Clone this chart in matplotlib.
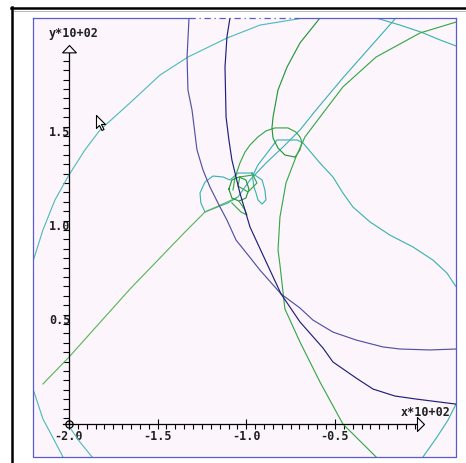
import numpy as np
import matplotlib
matplotlib.use("Agg")
import matplotlib.pyplot as plt
from matplotlib.lines import Line2D

# ---------------- data (units: x*10+02, y*10+02) ----------------
cyan_arc_x = [-2.215, -2.197, -2.147, -2.079, -2.000, -1.910, -1.825, -1.656, -1.487, -1.329, -1.109, -0.923, -0.714, -0.600]
cyan_arc_y = [0.820, 0.851, 1.000, 1.160, 1.293, 1.426, 1.532, 1.676, 1.824, 1.920, 2.021, 2.090, 2.122, 2.145]
cyan_arc2_x = [-0.330, -0.268, -0.133, -0.015, 0.093, 0.183, 0.210]
cyan_arc2_y = [2.150, 2.128, 2.090, 2.053, 2.011, 1.979, 1.968]
cyan_low1_x = [-2.210, -2.197, -2.147, -2.090, -2.034, -2.020]
cyan_low1_y = [0.165, 0.138, -0.005, -0.106, -0.207, -0.230]
cyan_low2_x = [-1.994, -1.938, -1.870, -1.850]
cyan_low2_y = [-0.053, -0.128, -0.207, -0.230]
cyan_low3_x = [0.200, 0.183, 0.138, 0.076, -0.003, -0.020]
cyan_low3_y = [0.085, 0.074, -0.011, -0.101, -0.207, -0.230]
cyan_line_x = [-0.140, -0.156, -0.455, -0.607, -0.697, -0.793, -0.889, -0.979, -1.047, -1.103, -1.233]
cyan_line_y = [2.150, 2.128, 1.809, 1.638, 1.532, 1.441, 1.356, 1.266, 1.176, 1.144, 1.096]
cyan_bean_x = [0.200, 0.177, 0.132, 0.053, -0.060, -0.190, -0.302, -0.398, -0.455, -0.511, -0.584, -0.680, -0.714, -0.827, -0.878, -0.934, -0.962]
cyan_bean_y = [0.680, 0.707, 0.771, 0.840, 0.910, 0.973, 1.043, 1.122, 1.197, 1.282, 1.356, 1.463, 1.479, 1.479, 1.415, 1.346, 1.293]
cyan_drop_x = [-0.968, -0.911, -0.895, -0.889, -0.911, -0.934, -0.945, -0.957, -0.962, -0.968]
cyan_drop_y = [1.303, 1.266, 1.213, 1.160, 1.138, 1.160, 1.197, 1.229, 1.266, 1.303]
cyan_loop_x = [-0.968, -1.047, -1.092, -1.131, -1.188, -1.233, -1.261, -1.256, -1.233]
cyan_loop_y = [1.303, 1.303, 1.266, 1.282, 1.287, 1.255, 1.197, 1.144, 1.096]

green_line_x = [-2.147, -2.000, -1.656, -1.346, -1.233, -1.058]
green_line_y = [0.181, 0.324, 0.686, 0.989, 1.096, 1.170]
green_circ_x = [-1.075, -1.064, -1.036, -1.007, -0.979, -0.934, -0.889, -0.838, -0.765, -0.720, -0.697, -0.686, -0.697, -0.725]
green_circ_y = [1.213, 1.277, 1.356, 1.415, 1.452, 1.495, 1.527, 1.543, 1.543, 1.521, 1.495, 1.468, 1.426, 1.388]
green_arc1_x = [-0.565, -0.584, -0.697, -0.770, -0.821, -0.849, -0.855, -0.849, -0.821, -0.782, -0.725]
green_arc1_y = [2.150, 2.128, 1.995, 1.867, 1.745, 1.601, 1.543, 1.489, 1.436, 1.399, 1.388]
green_arc2_x = [0.220, 0.183, -0.020, -0.268, -0.455, -0.584, -0.669, -0.720, -0.776, -0.810, -0.821, -0.810, -0.782, -0.697, -0.584, -0.455, -0.268, -0.240]
green_arc2_y = [2.115, 2.106, 2.048, 1.920, 1.761, 1.601, 1.495, 1.388, 1.250, 1.069, 0.894, 0.814, 0.580, 0.404, 0.191, -0.032, -0.207, -0.230]
green_small_x = [-1.098, -1.081, -1.041, -1.002, -0.985, -1.002, -1.041, -1.081, -1.098]
green_small_y = [1.218, 1.266, 1.282, 1.266, 1.218, 1.170, 1.154, 1.170, 1.218]
green_tail_x = [-1.041, -1.007, -0.996, -1.030, -1.081]
green_tail_y = [1.154, 1.106, 1.080, 1.096, 1.144]
green_sq_x = [-1.036, -0.962, -0.940, -0.990, -1.047, -1.036]
green_sq_y = [1.282, 1.293, 1.250, 1.202, 1.234, 1.282]

navy1_x = [-1.322, -1.323, -1.334, -1.329, -1.306, -1.278, -1.244, -1.205, -1.148, -1.109, -1.058, -0.990, -0.923, -0.804, -0.697, -0.624, -0.511, -0.381, -0.229, -0.133, 0.036, 0.183, 0.210]
navy1_y = [2.150, 2.128, 1.920, 1.745, 1.638, 1.426, 1.319, 1.229, 1.122, 1.053, 0.947, 0.867, 0.787, 0.660, 0.585, 0.521, 0.457, 0.415, 0.378, 0.367, 0.362, 0.367, 0.368]
navy2_x = [-1.090, -1.092, -1.109, -1.120, -1.114, -1.098, -1.081, -1.036, -0.979, -0.906, -0.804, -0.697, -0.567, -0.511, -0.381, -0.285, -0.162, -0.043, 0.183, 0.210]
navy2_y = [2.150, 2.128, 2.027, 1.867, 1.601, 1.479, 1.372, 1.197, 1.016, 0.867, 0.660, 0.511, 0.372, 0.298, 0.213, 0.154, 0.117, 0.101, 0.074, 0.072]

x_major = [-2.0, -1.5, -1.0, -0.5]
x_major_labels = ["-2.0", "-1.5", "-1.0", "-0.5"]
y_major = [0.5, 1.0, 1.5]
y_major_labels = ["0.5", "1.0", "1.5"]
x_axis_label = "x*10+02"
y_axis_label = "y*10+02"
origin_x = -2.0
axis_cross_y = -0.032
x_axis_tip = 0.0
y_axis_tip = 1.984
cursor_x = [-1.848]
cursor_y = [1.612]

# ---------------- styling ----------------
CYAN = "#3fb3b3"
CYAN2 = "#52bcbc"
GREEN_L = "#5cb85c"
GREEN = "#3aa84a"
GREEN_D = "#259838"
NAVY_L = "#5252a2"
NAVY_D = "#20207a"
FRAME = "#5a5ac8"
BG = "#fcf6fc"
LW = 0.85
FONT = dict(family="DejaVu Sans Mono", weight="bold", size=8.5)

fig = plt.figure(figsize=(4.66, 4.63), dpi=100)
fig.patch.set_facecolor("white")
ax = fig.add_axes([33 / 466, 6 / 463, 423 / 466, 439 / 463])
ax.set_xlim(-2.203, 0.183)
ax.set_ylim(-0.2074, 2.1277)
ax.set_facecolor(BG)

curves = [
    (cyan_arc_x, cyan_arc_y, CYAN2),
    (cyan_arc2_x, cyan_arc2_y, CYAN),
    (cyan_low1_x, cyan_low1_y, CYAN2),
    (cyan_low2_x, cyan_low2_y, CYAN2),
    (cyan_low3_x, cyan_low3_y, CYAN),
    (cyan_line_x, cyan_line_y, CYAN),
    (cyan_bean_x, cyan_bean_y, CYAN),
    (cyan_drop_x, cyan_drop_y, CYAN),
    (cyan_loop_x, cyan_loop_y, CYAN),
    (green_line_x, green_line_y, GREEN_L),
    (green_circ_x, green_circ_y, GREEN),
    (green_arc1_x, green_arc1_y, GREEN_D),
    (green_arc2_x, green_arc2_y, GREEN),
    (green_small_x, green_small_y, GREEN_D),
    (green_tail_x, green_tail_y, GREEN),
    (green_sq_x, green_sq_y, GREEN),
    (navy1_x, navy1_y, NAVY_L),
    (navy2_x, navy2_y, NAVY_D),
]
for xs, ys, c in curves:
    ax.plot(xs, ys, color=c, lw=LW, solid_joinstyle="round", zorder=2)

# coordinate axes (spines through the origin)
for s in ["top", "right"]:
    ax.spines[s].set_visible(False)
ax.spines["left"].set_position(("data", origin_x))
ax.spines["bottom"].set_position(("data", axis_cross_y))
ax.spines["left"].set_bounds(axis_cross_y, y_axis_tip - 0.043)
ax.spines["bottom"].set_bounds(origin_x - 0.034, x_axis_tip - 0.04)
for s in ["left", "bottom"]:
    ax.spines[s].set_color("black")
    ax.spines[s].set_linewidth(0.9)
    ax.spines[s].set_zorder(3)

ax.set_xticks(x_major, x_major_labels)
ax.set_xticks(np.round(np.arange(-1.95, -0.04, 0.05), 3), minor=True)
ax.set_yticks(y_major, y_major_labels)
ax.set_yticks(np.round(np.arange(0.0, 1.91, 0.05), 3), minor=True)
ax.tick_params(axis="x", which="minor", direction="out", length=3.6, width=0.8, color="black")
ax.tick_params(axis="x", which="major", direction="inout", length=7, width=0.8, pad=1.0, color="black")
ax.tick_params(axis="y", which="both", direction="out", length=4.3, width=0.8, color="black")
ax.tick_params(axis="y", which="major", pad=-5.2)
for lbl in ax.get_xticklabels() + ax.get_yticklabels():
    lbl.set_fontfamily(FONT["family"])
    lbl.set_fontweight(FONT["weight"])
    lbl.set_fontsize(FONT["size"])
    lbl.set_color("#202020")
for lbl in ax.get_yticklabels():
    lbl.set_va("baseline")

# arrow heads (open triangles) and origin marker
ax.plot([x_axis_tip], [axis_cross_y], marker=[(0, 0), (-1, 1), (-1, -1), (0, 0)],
        ms=10.1, mfc=BG, mec="black", mew=0.8, clip_on=False, zorder=4)
ax.plot([origin_x], [y_axis_tip], marker=[(0, 0), (-1, -1.07), (1, -1.07), (0, 0)],
        ms=10.6, mfc=BG, mec="black", mew=0.8, clip_on=False, zorder=4)
ax.plot([origin_x], [axis_cross_y], marker="o", ms=5.2, mfc="none", mec="black", mew=0.9, zorder=4)
ax.plot([origin_x], [axis_cross_y], marker="+", ms=7, mec="black", mew=0.8, zorder=4)

ax.annotate(x_axis_label, xy=(x_axis_tip, axis_cross_y), xytext=(2, 12), textcoords="offset pixels",
            ha="center", va="center", color="#202020", **FONT)
ax.annotate(y_axis_label, xy=(origin_x, y_axis_tip), xytext=(5, 12), textcoords="offset pixels",
            ha="center", va="center", color="#202020", **FONT)

# mouse pointer left on the screen
cursor_shape = [(0, 0), (0, -13), (3, -10), (5.5, -15), (7.5, -14), (5, -9), (9, -9), (0, 0)]
ax.plot(cursor_x, cursor_y, marker=cursor_shape, ms=21.6, mfc="white", mec="black", mew=0.8, zorder=5)

# blue plot frame (top partly broken)
ax.plot([0, 0, 1, 1], [1, 0, 0, 1], transform=ax.transAxes, color=FRAME, lw=0.9, clip_on=False, zorder=5)
ax.plot([0, 0.369], [1, 1], transform=ax.transAxes, color=FRAME, lw=0.9, clip_on=False, zorder=5)
ax.plot([0.624, 1], [1, 1], transform=ax.transAxes, color=FRAME, lw=0.9, clip_on=False, zorder=5)
ax.plot([0.369, 0.624], [1, 1], transform=ax.transAxes, color=FRAME, lw=0.9, ls=(0, (5, 3, 1, 3)),
        clip_on=False, zorder=5)

# outer window border
fig.add_artist(Line2D([12 / 466, 12 / 466], [0, 1 - 7 / 463], color="black", lw=1.8, transform=fig.transFigure))
fig.add_artist(Line2D([11 / 466, 1], [1 - 8 / 463, 1 - 8 / 463], color="black", lw=1.8, transform=fig.transFigure))
fig.add_artist(Line2D([14 / 466, 1], [1 - 10.5 / 463, 1 - 10.5 / 463], color="#b8b8b8", lw=0.7, transform=fig.transFigure))

fig.savefig("out.png", dpi=100, facecolor="white")
